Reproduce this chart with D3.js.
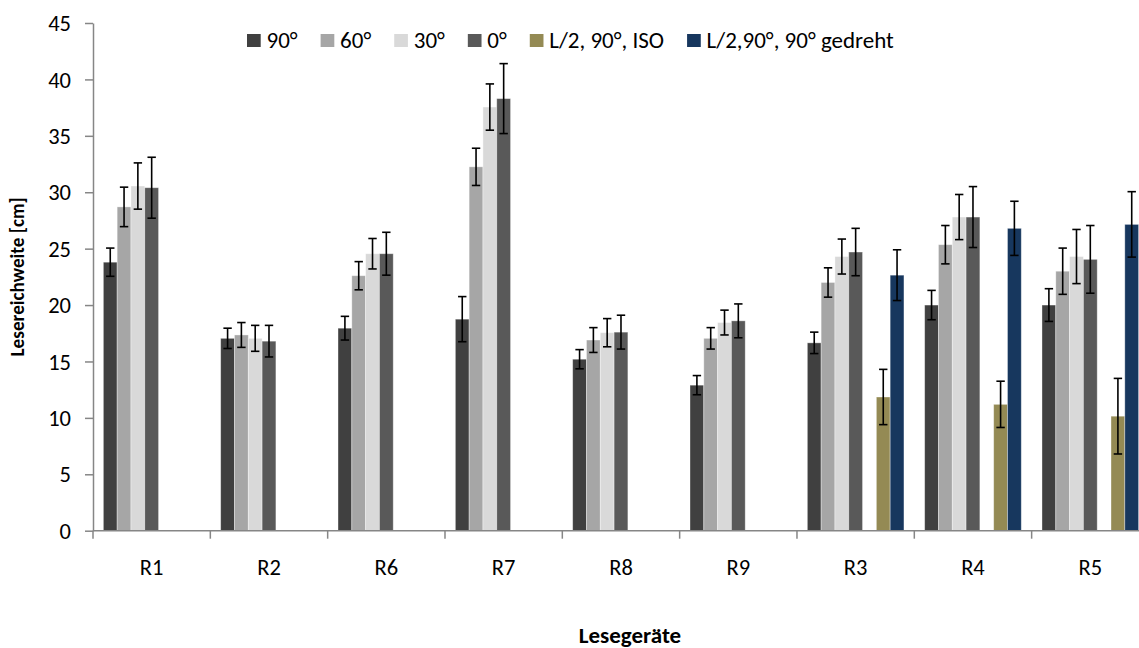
<!DOCTYPE html>
<html>
<head>
<meta charset="utf-8">
<script src="https://cdn.jsdelivr.net/npm/d3@7/dist/d3.min.js"></script>
<style>
  html, body { margin: 0; padding: 0; background: #fff; }
  svg { display: block; }
  text { font-family: Carlito, Lato, "Open Sans", sans-serif; fill: #000; }
</style>
</head>
<body>
<svg id="chart" width="1139" height="648"></svg>
<script>
// ---- data ----
const categories = ["R1", "R2", "R6", "R7", "R8", "R9", "R3", "R4", "R5"];
const seriesNames = ["90°", "60°", "30°", "0°", "L/2, 90°, ISO", "L/2,90°, 90° gedreht"];
const seriesColors = ["#404040", "#a6a6a6", "#d9d9d9", "#595959", "#948a54", "#17375e"];
const v90  = [23.8, 17.05, 17.95, 18.75, 15.2, 12.9, 16.65, 20.0, 20.0];
const e90  = [1.25, 0.9, 1.05, 2.0, 0.85, 0.85, 0.95, 1.3, 1.45];
const v60  = [28.7, 17.35, 22.6, 32.25, 16.9, 17.05, 22.0, 25.35, 23.0];
const e60  = [1.75, 1.1, 1.25, 1.65, 1.1, 0.95, 1.3, 1.7, 2.05];
const v30  = [30.55, 17.05, 24.55, 37.55, 17.55, 18.45, 24.3, 27.8, 24.3];
const e30  = [2.05, 1.15, 1.35, 2.05, 1.25, 1.1, 1.55, 2.0, 2.4];
const v0   = [30.4, 16.8, 24.55, 38.3, 17.6, 18.6, 24.7, 27.8, 24.05];
const e0   = [2.7, 1.4, 1.9, 3.1, 1.5, 1.5, 2.1, 2.7, 3.0];
const vIso = [null, null, null, null, null, null, 11.85, 11.2, 10.15];
const eIso = [null, null, null, null, null, null, 2.45, 2.05, 3.35];
const vRot = [null, null, null, null, null, null, 22.65, 26.8, 27.15];
const eRot = [null, null, null, null, null, null, 2.25, 2.4, 2.9];
const yTicks = [0, 5, 10, 15, 20, 25, 30, 35, 40, 45];
const yTitle = "Lesereichweite [cm]";
const xTitle = "Lesegeräte";

const seriesValues = [v90, v60, v30, v0, vIso, vRot];
const seriesErrors = [e90, e60, e30, e0, eIso, eRot];
// slot layout: an empty (unnamed) slot sits between 0° and the L/2 series
const slotKeys = ["90°", "60°", "30°", "0°", "_empty", "L/2, 90°, ISO", "L/2,90°, 90° gedreht"];

// ---- layout ----
const plotLeft = 93, plotTop = 23, plotBottom = 530.7;
const catStep = 117.33;
const fontMain = 22.5;
const svg = d3.select("#chart");
const W = +svg.attr("width");

const x = d3.scaleBand().domain(categories)
  .range([plotLeft, plotLeft + catStep * categories.length]).padding(0);
const xs = d3.scaleBand().domain(slotKeys).range([0, x.bandwidth()])
  .paddingInner(0).paddingOuter(0.75);
const y = d3.scaleLinear().domain([0, 45]).range([plotBottom, plotTop]);

const axisColor = "#868686";

// y axis
const yAxis = svg.append("g").attr("transform", `translate(${plotLeft},0)`)
  .call(d3.axisLeft(y).tickValues(yTicks).tickSize(8).tickPadding(14).tickSizeOuter(0));
yAxis.select(".domain").attr("stroke", axisColor).attr("stroke-width", 1.5);
yAxis.selectAll(".tick line").attr("stroke", axisColor).attr("stroke-width", 1.5);
yAxis.selectAll(".tick text").attr("font-size", fontMain).attr("fill", "#000")
  .attr("dy", "0.34em")
  .style("font-family", "Carlito, Lato, sans-serif");

// bars
const rows = [];
seriesNames.forEach((s, si) => {
  categories.forEach((c, ci) => {
    const v = seriesValues[si][ci];
    if (v == null) return;
    rows.push({ s, si, c, v, e: seriesErrors[si][ci] });
  });
});

svg.append("g").selectAll("rect").data(rows).join("rect")
  .attr("x", d => x(d.c) + xs(d.s))
  .attr("width", xs.bandwidth())
  .attr("y", d => y(d.v))
  .attr("height", d => y(0) - y(d.v))
  .attr("fill", d => seriesColors[d.si])
  .attr("stroke", "rgba(255,255,255,0.45)")
  .attr("stroke-width", 0.8);

// x axis (category boundaries carry the ticks)
const xg = svg.append("g");
xg.append("line").attr("x1", plotLeft).attr("x2", W)
  .attr("y1", y(0)).attr("y2", y(0)).attr("stroke", axisColor).attr("stroke-width", 1.5);
xg.selectAll("line.tick").data(categories).join("line").attr("class", "tick")
  .attr("x1", d => x(d)).attr("x2", d => x(d))
  .attr("y1", y(0)).attr("y2", y(0) + 8)
  .attr("stroke", axisColor).attr("stroke-width", 1.5);
xg.selectAll("text").data(categories).join("text")
  .attr("x", d => x(d) + x.bandwidth() / 2)
  .attr("y", y(0) + 44.5)
  .attr("text-anchor", "middle").attr("font-size", fontMain)
  .text(d => d);

// error bars
const eg = svg.append("g").attr("stroke", "#000").attr("stroke-width", 1.6);
const cx = d => x(d.c) + xs(d.s) + xs.bandwidth() / 2;
eg.selectAll("line.v").data(rows).join("line").attr("class", "v")
  .attr("x1", cx).attr("x2", cx)
  .attr("y1", d => y(d.v + d.e)).attr("y2", d => y(d.v - d.e));
eg.selectAll("line.t").data(rows).join("line").attr("class", "t")
  .attr("x1", d => cx(d) - 4.2).attr("x2", d => cx(d) + 4.2)
  .attr("y1", d => y(d.v + d.e)).attr("y2", d => y(d.v + d.e));
eg.selectAll("line.b").data(rows).join("line").attr("class", "b")
  .attr("x1", d => cx(d) - 4.2).attr("x2", d => cx(d) + 4.2)
  .attr("y1", d => y(d.v - d.e)).attr("y2", d => y(d.v - d.e));

// legend
const lg = svg.append("g");
let lx = 247;
seriesNames.forEach((s, i) => {
  lg.append("rect").attr("x", lx).attr("y", 34).attr("width", 13.7).attr("height", 13)
    .attr("fill", seriesColors[i]);
  const t = lg.append("text").attr("x", lx + 19.5).attr("y", 47.8)
    .attr("font-size", 23).text(s);
  lx += 19.5 + t.node().getComputedTextLength() + 23;
});

// titles
svg.append("text")
  .attr("transform", `translate(24,${(plotTop + plotBottom) / 2}) rotate(-90)`)
  .attr("text-anchor", "middle").attr("font-size", 19.2).attr("font-weight", "bold")
  .text(yTitle);
svg.append("text")
  .attr("x", 630).attr("y", 643)
  .attr("text-anchor", "middle").attr("font-size", 23).attr("font-weight", "bold")
  .text(xTitle);
</script>
</body>
</html>
